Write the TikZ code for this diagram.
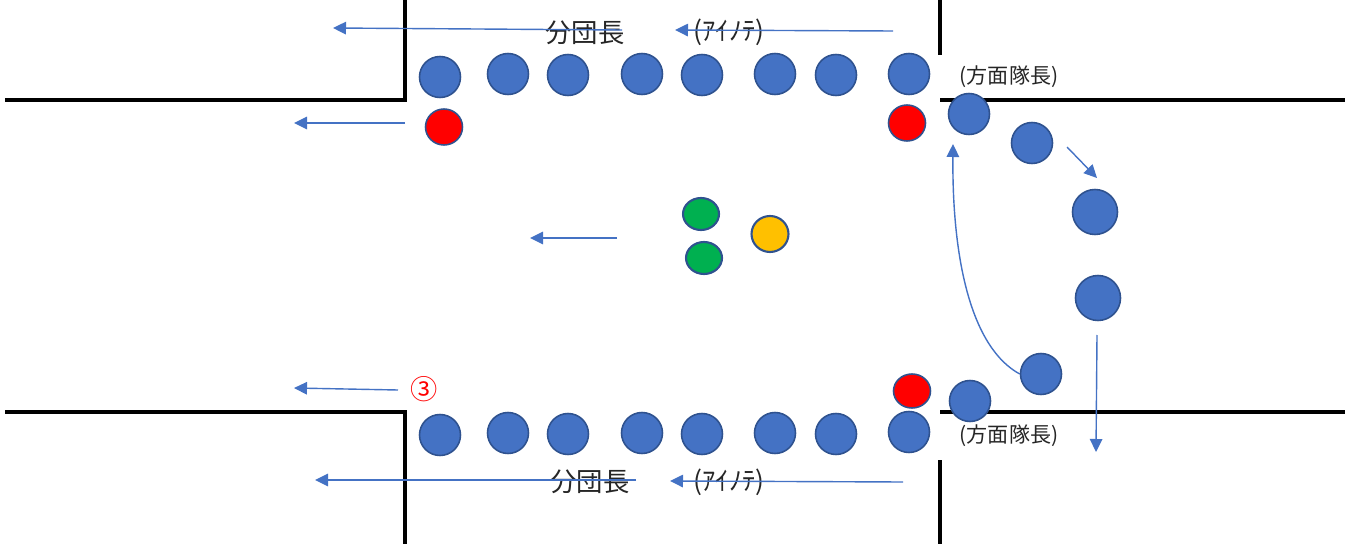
\documentclass[tikz,border=0pt]{standalone}
\usepackage{fontspec}
\newfontfamily\jpfont{Noto Sans CJK JP}
\usetikzlibrary{arrows.meta,positioning,shapes.geometric}
\definecolor{memberblue}{HTML}{4472C4}
\definecolor{edgeblue}{HTML}{2F528F}
\definecolor{staffgreen}{HTML}{00B050}
\definecolor{staffyellow}{HTML}{FFC000}
\tikzstyle{member} = [circle, draw=edgeblue, fill=memberblue, line width=0.9pt, minimum size=0.82cm, inner sep=0pt]
\tikzstyle{bigmember} = [member, minimum size=0.9cm]
\tikzstyle{leader} = [ellipse, draw=edgeblue, fill=red, line width=0.9pt, minimum width=0.74cm, minimum height=0.72cm, inner sep=0pt]
\tikzstyle{staff} = [ellipse, draw=edgeblue, fill=staffgreen, line width=1.2pt, minimum width=0.72cm, minimum height=0.64cm, inner sep=0pt]
\tikzstyle{wall} = [line width=1.9pt, black]
\tikzstyle{move} = [draw=memberblue, line width=0.8pt, -{Triangle[width=0.25cm,length=0.26cm]}]
\tikzstyle{title} = [font=\jpfont\fontsize{15}{18}\selectfont, text=black!85, inner sep=0pt]
\tikzstyle{rank} = [font=\jpfont\fontsize{12}{14}\selectfont, text=black!85, inner sep=0pt]

\begin{document}
\begin{tikzpicture}[x=0.02cm, y=-0.02cm]
\useasboundingbox (0,0) rectangle (1349,544);

% Walls of the road
\draw[wall] (405,0) -- (405,100) -- (5,100);
\draw[wall] (940,0) -- (940,55);
\draw[wall] (940,100) -- (1345,100);
\draw[wall] (5,412) -- (405,412) -- (405,544);
\draw[wall] (940,412) -- (1345,412);
\draw[wall] (940,460) -- (940,544);

% Top row
\node[member] (t1) at (440,77) {};
\node[member] (t2) at (508,74) {};
\node[member] (t3) at (568,75) {};
\node[member] (t4) at (642,74) {};
\node[member] (t5) at (702,75) {};
\node[member] (t6) at (775,74) {};
\node[member] (t7) at (836,75) {};
\node[member] (t8) at (909,74) {};

% Bottom row
\node[member] (b1) at (440,435) {};
\node[member] (b2) at (508,433) {};
\node[member] (b3) at (568,434) {};
\node[member] (b4) at (642,433) {};
\node[member] (b5) at (702,434) {};
\node[member] (b6) at (775,433) {};
\node[member] (b7) at (836,434) {};
\node[member] (b8) at (909,432) {};

% Red leaders
\node[leader] (lead1) at (444,127) {};
\node[leader] (lead2) at (907,123) {};
\node[leader, minimum height=0.68cm] (lead3) at (912,391) {};

% Turning members on the right
\node[member] (r1) at (969,114) {};
\node[member] (r2) at (1032,143) {};
\node[bigmember] (r3) at (1095,212) {};
\node[bigmember] (r4) at (1098,298) {};
\node[member] (r5) at (1041,374) {};
\node[member] (r6) at (970,401) {};

% Centre group
\node[staff] (green1) at (701,214) {};
\node[staff] (green2) at (704,258) {};
\node[staff, fill=staffyellow, minimum width=0.74cm, minimum height=0.72cm] (chief) at (770,234) {};

% Labels
\node[title] (topleader) at (585,33) {分団長};
\node[title] (topcaller) at (729,32) {(ｱｲﾉﾃ)};
\node[title] (botleader) at (590,482) {分団長};
\node[title] (botcaller) at (729,482) {(ｱｲﾉﾃ)};
\node[rank] (toprank) at (1009,77) {(方面隊長)};
\node[rank] (botrank) at (1009,436) {(方面隊長)};
\node[font=\jpfont\fontsize{15.5}{18}\selectfont, text=red, inner sep=0pt] (three) at (424,389) {③};

% Arrow end points
\coordinate (a1s) at (622,30);  \coordinate (a1e) at (333,28);
\coordinate (a2s) at (893,31);  \coordinate (a2e) at (675,30);
\coordinate (a3s) at (405,123); \coordinate (a3e) at (294,123);
\coordinate (a4s) at (617,238); \coordinate (a4e) at (530,238);
\coordinate (a5s) at (398,390); \coordinate (a5e) at (294,388);
\coordinate (a6s) at (636,480); \coordinate (a6e) at (315,480);
\coordinate (a7s) at (903,482); \coordinate (a7e) at (670,481);
\coordinate (a8s) at (1067,147); \coordinate (a8e) at (1097,178);
\coordinate (a9s) at (1097,335); \coordinate (a9e) at (1096,452);
\coordinate (turn) at (953,144);

% Marching arrows
\draw[move] (a1s) -- (a1e);
\draw[move] (a2s) -- (a2e);
\draw[move] (a3s) -- (a3e);
\draw[move] (a4s) -- (a4e);
\draw[move] (a5s) -- (a5e);
\draw[move] (a6s) -- (a6e);
\draw[move] (a7s) -- (a7e);
\draw[move] (a8s) -- (a8e);
\draw[move] (a9s) -- (a9e);

% Turning arrow
\draw[move] (r5.west) .. controls (972,348) and (952,262) .. (turn);

\end{tikzpicture}
\end{document}
